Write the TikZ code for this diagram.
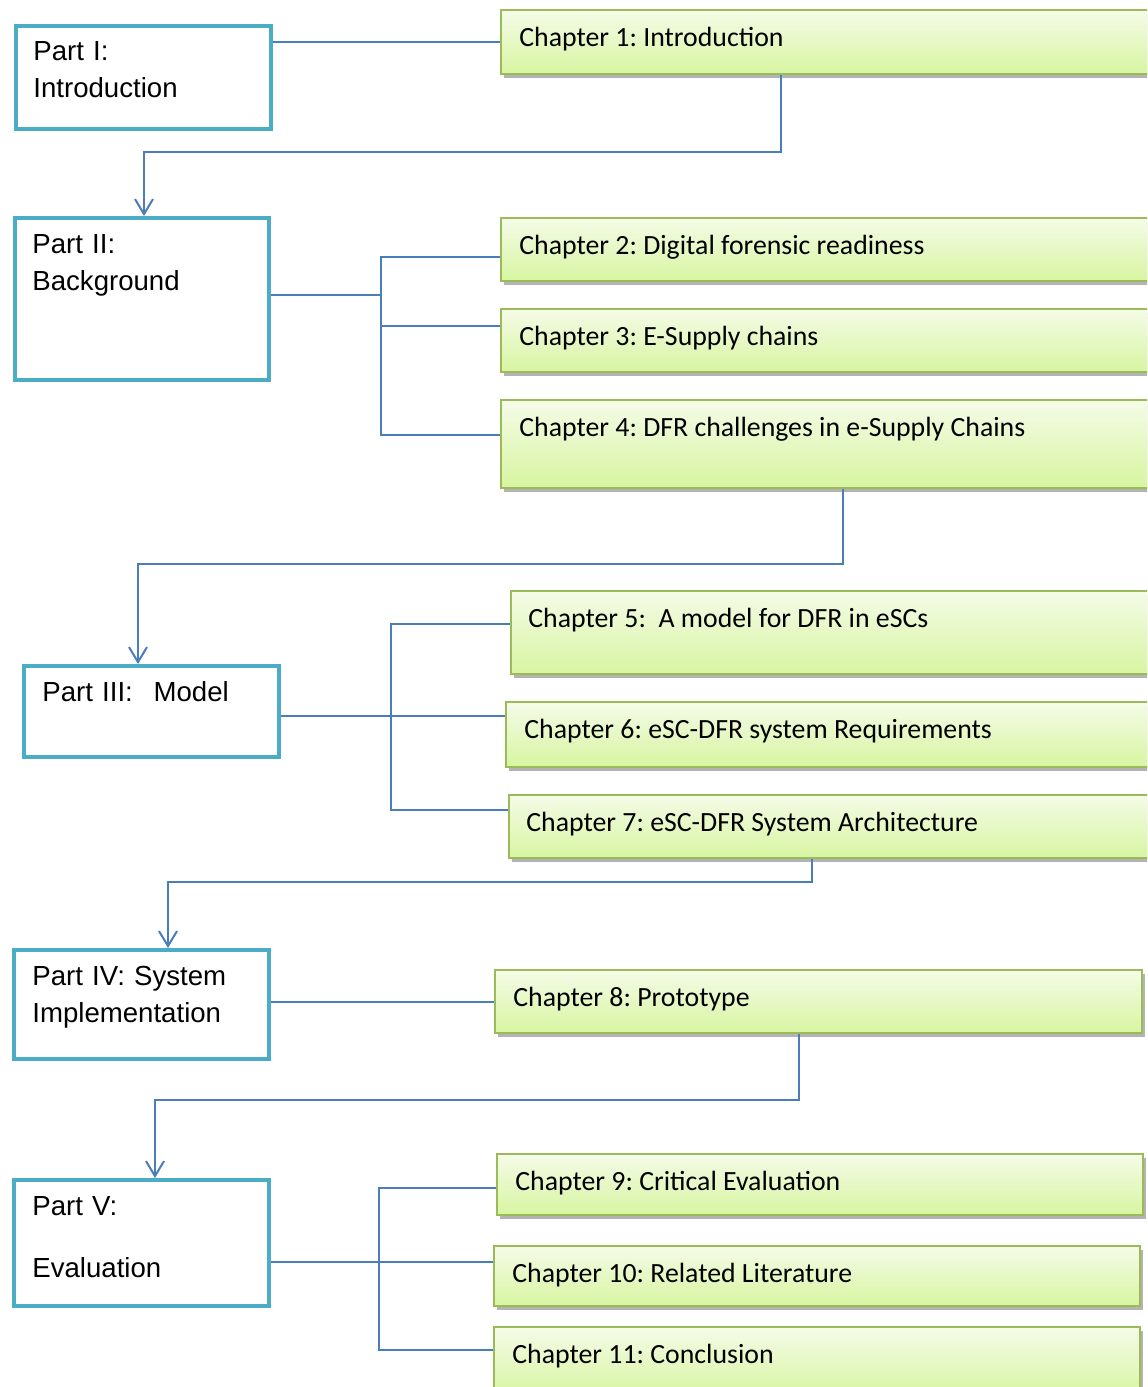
\documentclass[tikz,border=0pt]{standalone}
\usepackage{fontspec}
\newfontfamily\chapfont{Carlito}
\newfontfamily\partfont{Liberation Sans}
\usetikzlibrary{arrows.meta,calc,shadows}
\frenchspacing
\definecolor{partline}{HTML}{4BACC6}
\definecolor{chapline}{HTML}{9BBB59}
\definecolor{chaptop}{HTML}{F5FBE8}
\definecolor{chapbot}{HTML}{D7F5A0}
\definecolor{link}{HTML}{4A7EBB}
\tikzset{
  partbox/.style={draw=partline, line width=2pt, fill=white, anchor=north west, inner sep=0pt},
  chapbox/.style={draw=chapline, line width=1pt, top color=chaptop, bottom color=chapbot,
    anchor=north west, inner sep=0pt,
    drop shadow={shadow xshift=1.5pt, shadow yshift=-2pt, fill=black!50, opacity=0.6}},
  parttext/.style={anchor=base west, inner sep=0pt, text width=125pt, align=left,
    font=\partfont\fontsize{13.8}{18.5}\selectfont},
  chaptext/.style={anchor=base west, inner sep=0pt, font=\chapfont\fontsize{13.9}{16}\selectfont},
  conn/.style={draw=link, line width=1pt},
  flow/.style={conn, -{Straight Barb[length=7.5pt,width=9pt,line width=1pt]}},
}
\begin{document}
\begin{tikzpicture}[x=0.5pt,y=-0.5pt]
\useasboundingbox (0,0) rectangle (1147,1387);
\clip (0,0) rectangle (1147,1387);

% ---- parts ----
\node[partbox, minimum width=127.5pt, minimum height=51.5pt] (p1) at (14,24) {};
\node[partbox, minimum width=127pt,   minimum height=81pt]   (p2) at (13,216) {};
\node[partbox, minimum width=127.5pt, minimum height=45.5pt] (p3) at (22,664) {};
\node[partbox, minimum width=127.5pt, minimum height=54.5pt] (p4) at (12,948) {};
\node[partbox, minimum width=127.5pt, minimum height=63pt]   (p5) at (12,1178) {};

\node[parttext] (p1t) at (33,60)   {Part I:\\Introduction};
\node[parttext] (p2t) at (32,253)  {Part II:\\Background};
\node[parttext] (p3t) at (42,701)  {Part III:\hspace{0.75em}Model};
\node[parttext] (p4t) at (32,985)  {Part IV: System\\Implementation};
\node[parttext] (p5t) at (32,1215) {Part V:\\[12.5pt]Evaluation};

% ---- chapters ----
\node[chapbox, minimum width=330pt, minimum height=32pt]   (c1)  at (500,9) {};
\node[chapbox, minimum width=330pt, minimum height=31.5pt] (c2)  at (500,217) {};
\node[chapbox, minimum width=330pt, minimum height=31.5pt] (c3)  at (500,308) {};
\node[chapbox, minimum width=330pt, minimum height=44pt]   (c4)  at (500,399) {};
\node[chapbox, minimum width=325pt, minimum height=41.5pt] (c5)  at (510,590) {};
\node[chapbox, minimum width=328pt, minimum height=32.5pt] (c6)  at (505,701) {};
\node[chapbox, minimum width=326pt, minimum height=31.5pt] (c7)  at (508,794) {};
\node[chapbox, minimum width=323.5pt, minimum height=31.5pt] (c8)  at (494,969) {};
\node[chapbox, minimum width=323pt, minimum height=30.5pt] (c9)  at (496,1153) {};
\node[chapbox, minimum width=323pt, minimum height=30pt]   (c10) at (493,1245) {};
\node[chapbox, minimum width=323pt, minimum height=35pt]   (c11) at (493,1326) {};

\node[chaptext] (c1t)  at (519,46)   {Chapter 1: Introduction};
\node[chaptext] (c2t)  at (519,254)  {Chapter 2: Digital forensic readiness};
\node[chaptext] (c3t)  at (519,345)  {Chapter 3: E-Supply chains};
\node[chaptext] (c4t)  at (519,436)  {Chapter 4: DFR challenges in e-Supply Chains};
\node[chaptext] (c5t)  at (528,627)  {Chapter 5:\ \ A model for DFR in eSCs};
\node[chaptext] (c6t)  at (524,738)  {Chapter 6: eSC-DFR system Requirements};
\node[chaptext] (c7t)  at (526,831)  {Chapter 7: eSC-DFR System Architecture};
\node[chaptext] (c8t)  at (513,1006) {Chapter 8: Prototype};
\node[chaptext] (c9t)  at (515,1190) {Chapter 9: Critical Evaluation};
\node[chaptext] (c10t) at (512,1282) {Chapter 10: Related Literature};
\node[chaptext] (c11t) at (512,1363) {Chapter 11: Conclusion};

% ---- bend and bus points ----
\coordinate (k1) at (781,152);  \coordinate (a2) at (144,0);
\coordinate (k2) at (843,564);  \coordinate (a3) at (138,0);
\coordinate (k3) at (812,882);  \coordinate (a4) at (168,0);
\coordinate (k4) at (799,1100); \coordinate (a5) at (155,0);
\coordinate (b2t) at (381,257); \coordinate (b2m) at (381,326); \coordinate (b2b) at (381,435);
\coordinate (b2j) at (381,295);
\coordinate (b3t) at (391,624); \coordinate (b3m) at (391,716); \coordinate (b3b) at (391,810);
\coordinate (b5t) at (379,1188); \coordinate (b5m) at (379,1262); \coordinate (b5b) at (379,1350);

% Part I
\draw[conn] (p1.east |- c1.west) -- (c1.west);
\draw[flow] (c1.south -| k1) -- (k1) -| (p2.north -| a2);

% Part II
\draw[conn] (p2.east |- b2j) -- (b2j);
\draw[conn] (c2.west |- b2t) -- (b2t) -- (b2b) -- (c4.west |- b2b);
\draw[conn] (b2m) -- (c3.west |- b2m);
\draw[flow] (c4.south -| k2) -- (k2) -| (p3.north -| a3);

% Part III
\draw[conn] (p3.east |- b3m) -- (c6.west |- b3m);
\draw[conn] (c5.west |- b3t) -- (b3t) -- (b3b) -- (c7.west |- b3b);
\draw[flow] (c7.south -| k3) -- (k3) -| (p4.north -| a4);

% Part IV
\draw[conn] (p4.east |- c8.west) -- (c8.west);
\draw[flow] (c8.south -| k4) -- (k4) -| (p5.north -| a5);

% Part V
\draw[conn] (p5.east |- b5m) -- (c10.west |- b5m);
\draw[conn] (c9.west |- b5t) -- (b5t) -- (b5b) -- (c11.west |- b5b);
\end{tikzpicture}
\end{document}
